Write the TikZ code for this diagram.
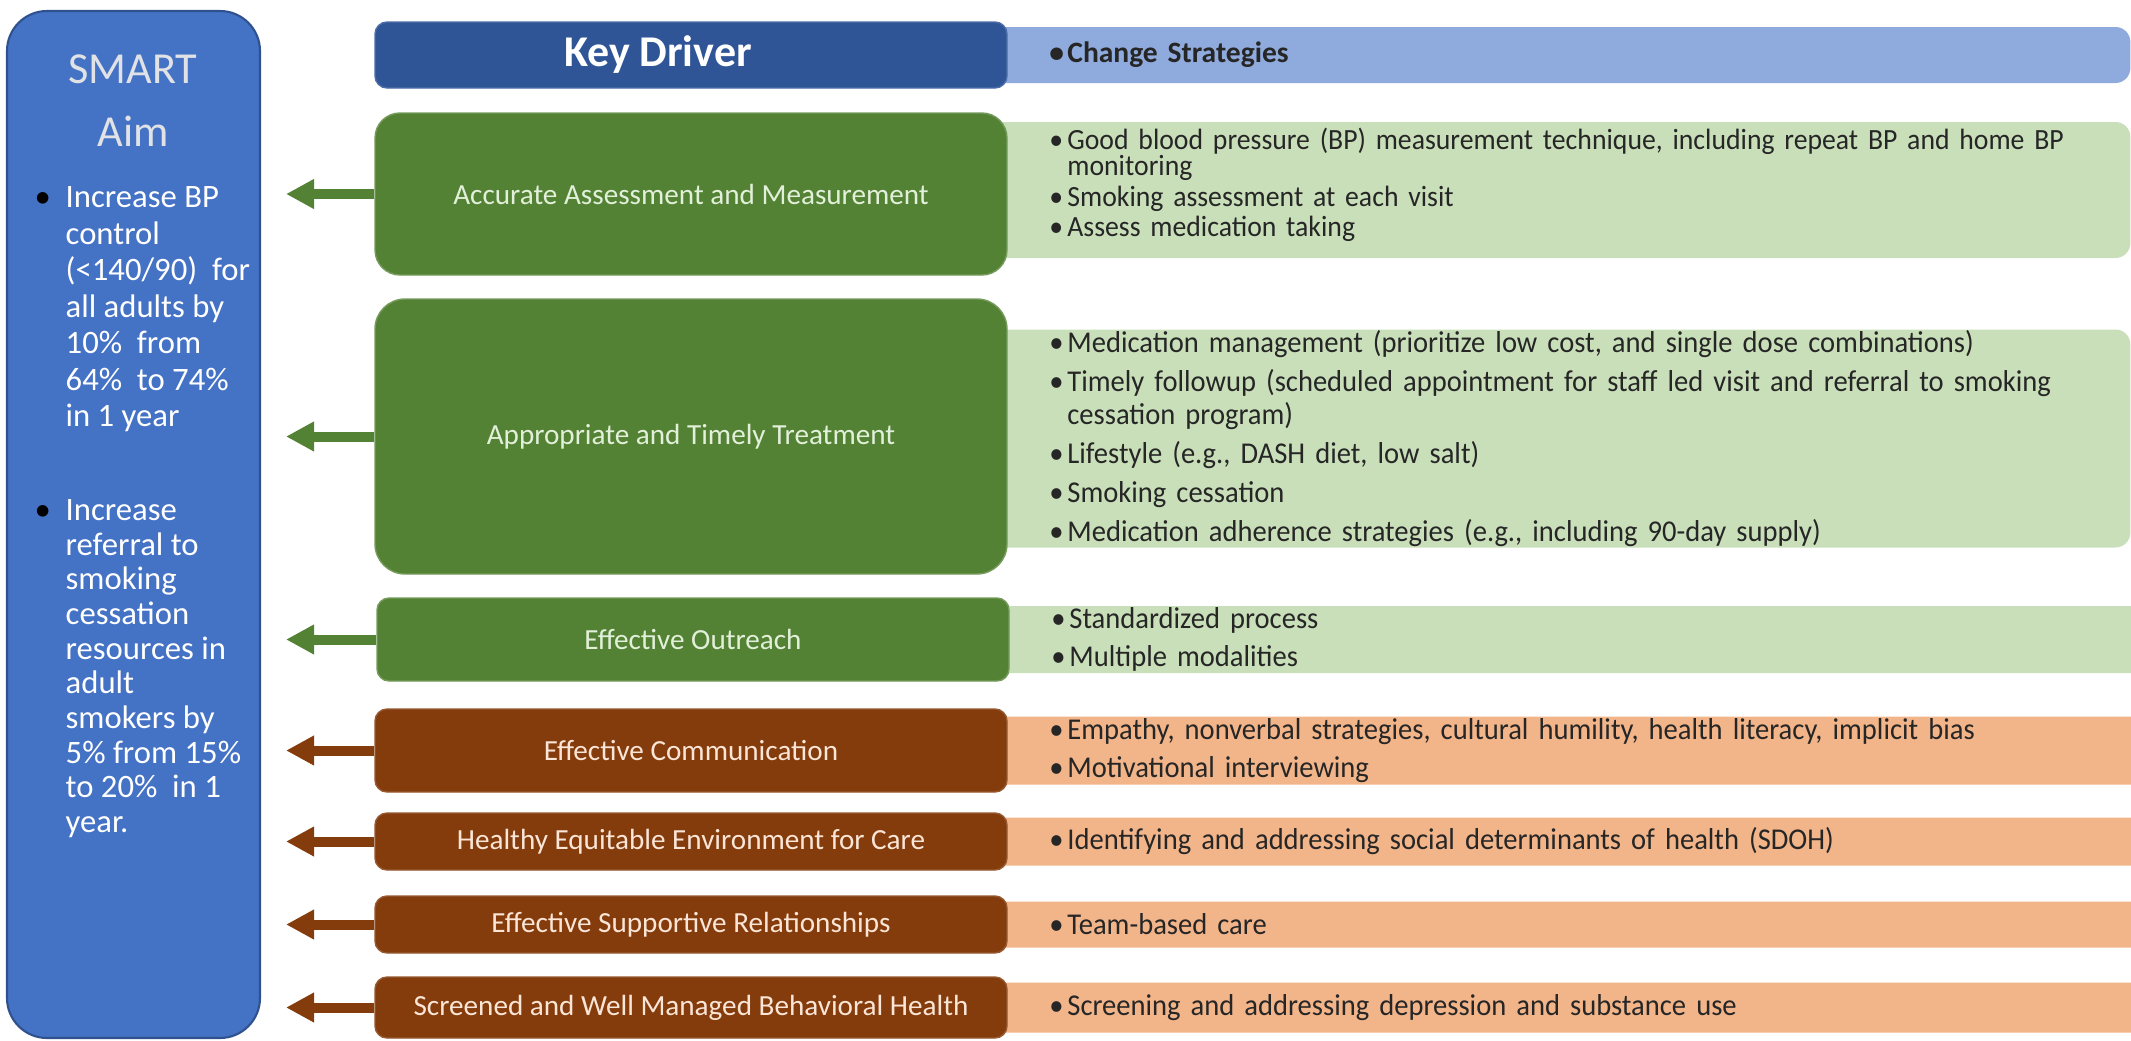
\documentclass[tikz,border=0pt]{standalone}
\usepackage{fontspec}
\setmainfont{Carlito}
\newfontfamily\stratfont[FakeStretch=0.945]{Carlito}
\usepackage{tikz}
\usetikzlibrary{positioning,arrows.meta,backgrounds}
\usepackage{xcolor}
\definecolor{AimBlue}{HTML}{4472C4}
\definecolor{AimEdge}{HTML}{2F528F}
\definecolor{AimGrey}{HTML}{E0E2E6}
\definecolor{DriverBlue}{HTML}{2F5597}
\definecolor{StratBlue}{HTML}{8FAADC}
\definecolor{DriverGreen}{HTML}{548235}
\definecolor{StratGreen}{HTML}{C9DFB9}
\definecolor{TextGreen}{HTML}{E2F0D9}
\definecolor{DriverBrown}{HTML}{843C0C}
\definecolor{StratOrange}{HTML}{F2B489}
\definecolor{TextOrange}{HTML}{FBE5D6}

% bullet and hanging indent for the lists
\newcommand{\itm}[1][1.8mm]{\makebox[#1][l]{\textbullet}}
\newcommand{\aimitm}{\makebox[3.1mm][l]{\textcolor{black}{\textbullet}}}
\newcommand{\cont}[1][1.8mm]{\hspace*{#1}}

\begin{document}
\begin{tikzpicture}[
  x=0.1mm, y=-0.1mm,
  every node/.style={inner sep=0pt},
  aimbox/.style={draw=AimEdge, fill=AimBlue, line width=0.6pt, rounded corners=4mm},
  aimtext/.style={text=white, align=left, anchor=north west},
  drvbox/.style={rounded corners=2.5mm, minimum width=63.2mm, align=center, font=\fontsize{8.3}{10}\selectfont},
  greenbox/.style={drvbox, fill=DriverGreen, draw=DriverGreen!80!white, text=TextGreen},
  brownbox/.style={drvbox, rounded corners=1.2mm, fill=DriverBrown, draw=DriverBrown!85!white, text=TextOrange},
  stratbar/.style={rounded corners=1.5mm, text width=101.8mm, inner xsep=6.3mm, inner ysep=0pt, align=left, text=black!85, font=\stratfont\fontsize{8.6}{9.4}\selectfont},
  longbar/.style={text width=110mm},
  aimarrow/.style={-{Triangle[length=2.8mm,width=2.8mm]}, line width=1mm, shorten >=2.5mm}
]
\useasboundingbox (0,0) rectangle (2131,1041);

% aim column
\node[aimbox, minimum width=25.3mm, minimum height=102.7mm] (aim) at (133.5,524.5) {};
\node[text=AimGrey, align=center, font=\fontsize{12.6}{17.9}\selectfont] (aimtitle) at (133,101) {SMART\\Aim};
\node[aimtext, font=\fontsize{9.3}{10.4}\selectfont] (aim1) at (34,186) {%
  \aimitm Increase BP\\
  \cont[3.1mm]control\\
  \cont[3.1mm](<140/90)\ \ for\\
  \cont[3.1mm]all adults by\\
  \cont[3.1mm]10\%\ \ from\\
  \cont[3.1mm]64\%\ \ to 74\%\\
  \cont[3.1mm]in 1 year};
\node[aimtext, font=\fontsize{9.3}{9.85}\selectfont] (aim2) at (34,499) {%
  \aimitm Increase\\
  \cont[3.1mm]referral to\\
  \cont[3.1mm]smoking\\
  \cont[3.1mm]cessation\\
  \cont[3.1mm]resources in\\
  \cont[3.1mm]adult\\
  \cont[3.1mm]smokers by\\
  \cont[3.1mm]5\% from 15\%\\
  \cont[3.1mm]to 20\%\ \ in 1\\
  \cont[3.1mm]year.};

% key drivers
\node[drvbox, rounded corners=1.2mm, fill=DriverBlue, draw=DriverBlue!85!white, text=white, minimum height=6.6mm, font=\fontsize{12.5}{14}\selectfont\bfseries] (key) at (691,55) {Key Driver\hspace*{6.6mm}};
\node[greenbox, minimum height=16.2mm] (drv1) at (691,194) {Accurate Assessment and Measurement};
\node[greenbox, minimum height=27.5mm, rounded corners=3mm] (drv2) at (691,436.5) {Appropriate and Timely Treatment};
\node[greenbox, minimum height=8.3mm, rounded corners=1.2mm] (drv3) at (693,639.5) {Effective Outreach};
\node[brownbox, minimum height=8.3mm] (drv4) at (691,750.5) {Effective Communication};
\node[brownbox, minimum height=5.7mm] (drv5) at (691,841.5) {Healthy Equitable Environment for Care};
\node[brownbox, minimum height=5.7mm] (drv6) at (691,924.5) {Effective Supportive Relationships};
\node[brownbox, minimum height=6.1mm] (drv7) at (691,1007.5) {Screened and Well Managed Behavioral Health};

% change strategies, tucked under the driver boxes
\begin{scope}[on background layer]
\node[stratbar, fill=StratBlue, minimum height=5.6mm, right=-2.2mm of key, font=\fontsize{8.4}{10}\selectfont\bfseries] (bar0) {\itm Change Strategies};
% list sits a little high in this bar: spare empty line at the bottom
\node[stratbar, fill=StratGreen, minimum height=13.6mm, right=-2.2mm of drv1, yshift=0.4mm, font=\stratfont\fontsize{8.35}{7.5}\selectfont] (bar1) {%
  \mbox{\itm Good blood pressure (BP) measurement technique, including repeat BP and home BP}\\
  \cont monitoring\\[1.2pt]
  \itm Smoking assessment at each visit\\[1.2pt]
  \itm Assess medication taking\\[-3.2pt]
  \mbox{}};
\node[stratbar, fill=StratGreen, minimum height=21.8mm, right=-2.2mm of drv2, yshift=-0.2mm] (bar2) {%
  \itm Medication management (prioritize low cost, and single dose combinations)\\[1.7pt]
  \mbox{\itm Timely followup (scheduled appointment for staff led visit and referral to smoking}\\
  \cont cessation program)\\[1.7pt]
  \itm Lifestyle (e.g., DASH diet, low salt)\\[1.7pt]
  \itm Smoking cessation\\[1.7pt]
  \itm Medication adherence strategies (e.g., including 90-day supply)};
\node[stratbar, longbar, fill=StratGreen, minimum height=6.7mm, right=-2.2mm of drv3] (bar3) {%
  \itm Standardized process\\[1.4pt]
  \itm Multiple modalities};
\node[stratbar, longbar, fill=StratOrange, minimum height=6.8mm, right=-2.2mm of drv4] (bar4) {%
  \itm Empathy, nonverbal strategies, cultural humility, health literacy, implicit bias\\[1.4pt]
  \itm Motivational interviewing};
\node[stratbar, longbar, fill=StratOrange, minimum height=4.8mm, right=-2.2mm of drv5] (bar5) {\itm Identifying and addressing social determinants of health (SDOH)};
\node[stratbar, longbar, fill=StratOrange, minimum height=4.6mm, right=-2.2mm of drv6] (bar6) {\itm Team-based care};
\node[stratbar, longbar, fill=StratOrange, minimum height=5.0mm, right=-2.2mm of drv7] (bar7) {\itm Screening and addressing depression and substance use};
\end{scope}

% arrows back to the aim
\draw[aimarrow, DriverGreen] (drv1.west) -- (drv1.west -| aim.east);
\draw[aimarrow, DriverGreen] (drv2.west) -- (drv2.west -| aim.east);
\draw[aimarrow, DriverGreen] (drv3.west) -- (drv3.west -| aim.east);
\draw[aimarrow, DriverBrown] (drv4.west) -- (drv4.west -| aim.east);
\draw[aimarrow, DriverBrown] (drv5.west) -- (drv5.west -| aim.east);
\draw[aimarrow, DriverBrown] (drv6.west) -- (drv6.west -| aim.east);
\draw[aimarrow, DriverBrown] (drv7.west) -- (drv7.west -| aim.east);
\end{tikzpicture}
\end{document}
